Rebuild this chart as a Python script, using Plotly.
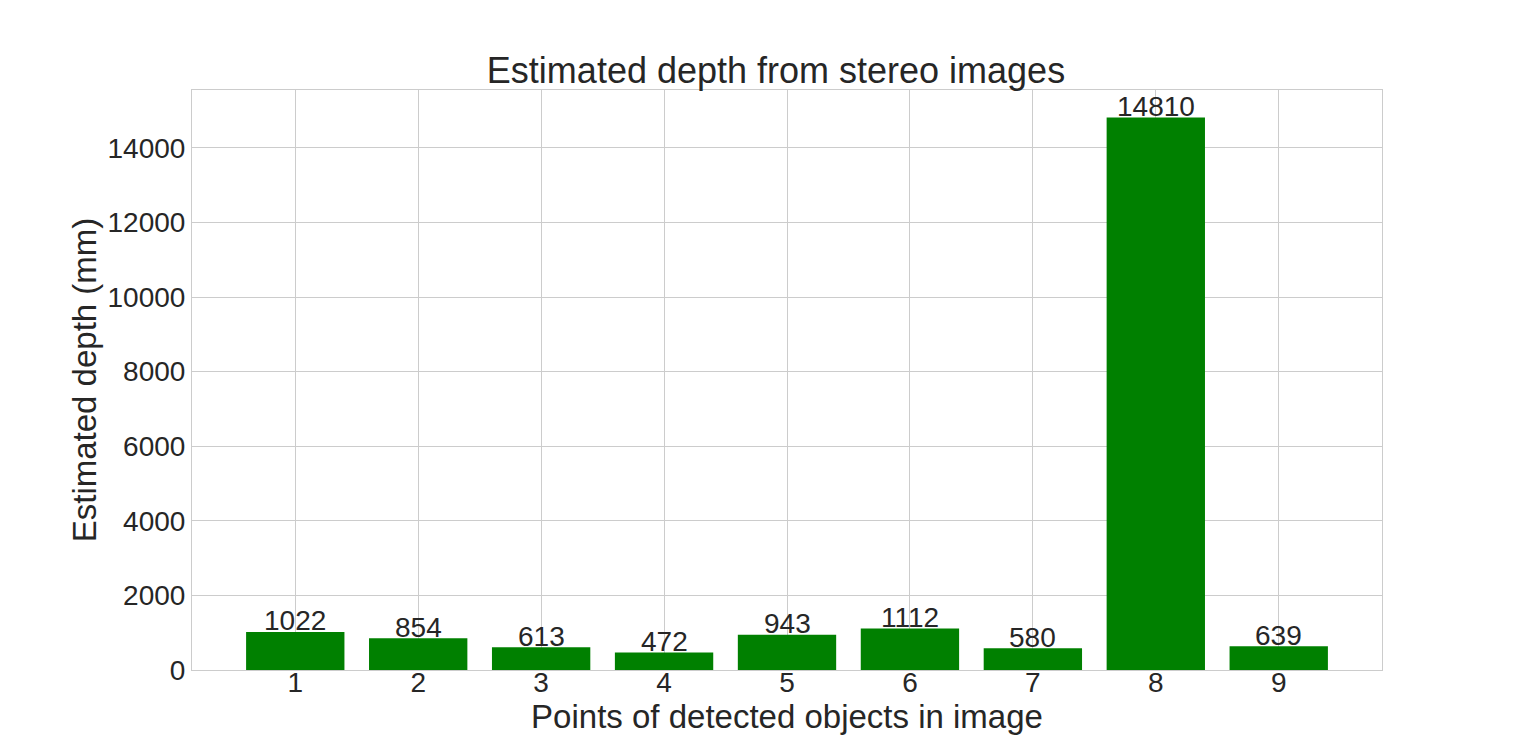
import plotly.graph_objects as go

points = [1, 2, 3, 4, 5, 6, 7, 8, 9]
depths = [1022, 854, 613, 472, 943, 1112, 580, 14810, 639]
y_ticks = [0, 2000, 4000, 6000, 8000, 10000, 12000, 14000]

font_family = "Liberation Sans, Arial, sans-serif"
text_color = "#262626"

fig = go.Figure()
fig.add_trace(go.Bar(x=points, y=depths, width=0.8, marker=dict(color="#008000", line=dict(width=0)),
                     hoverinfo="x+y"))

annotations = [
    dict(x=p, y=d, text=str(d), xref="x", yref="y", showarrow=False,
         yanchor="middle", xanchor="center", yshift=11,
         font=dict(size=28, color=text_color, family=font_family))
    for p, d in zip(points, depths)
]

fig.update_layout(
    width=1536, height=753,
    margin=dict(l=184, r=162, t=82, b=91),
    paper_bgcolor="white", plot_bgcolor="white",
    font=dict(family=font_family, color=text_color),
    title=dict(text="Estimated depth from stereo images", x=0.5, xanchor="center",
               y=1 - 62 / 753, yanchor="middle", font=dict(size=36, color=text_color)),
    showlegend=False,
    annotations=annotations,
    bargap=0.2,
)
fig.update_xaxes(
    range=[0.16, 9.84], tickmode="array", tickvals=points, ticktext=[str(p) for p in points],
    showgrid=True, gridcolor="#cccccc", gridwidth=1,
    showline=True, linecolor="#cccccc", linewidth=1, mirror=True,
    ticks="", tickfont=dict(size=28, color=text_color), ticklabelstandoff=-13,
    title=dict(text="Points of detected objects in image", font=dict(size=33, color=text_color), standoff=6),
    zeroline=False,
)
fig.update_yaxes(
    range=[0, 15550.5], tickmode="array", tickvals=y_ticks, ticktext=[str(t) for t in y_ticks],
    showgrid=True, gridcolor="#cccccc", gridwidth=1,
    showline=True, linecolor="#cccccc", linewidth=1, mirror=True,
    ticks="", tickfont=dict(size=28, color=text_color),
    title=dict(text="Estimated depth (mm)", font=dict(size=33, color=text_color), standoff=0),
    zeroline=False,
)

fig.write_html("out.html")
